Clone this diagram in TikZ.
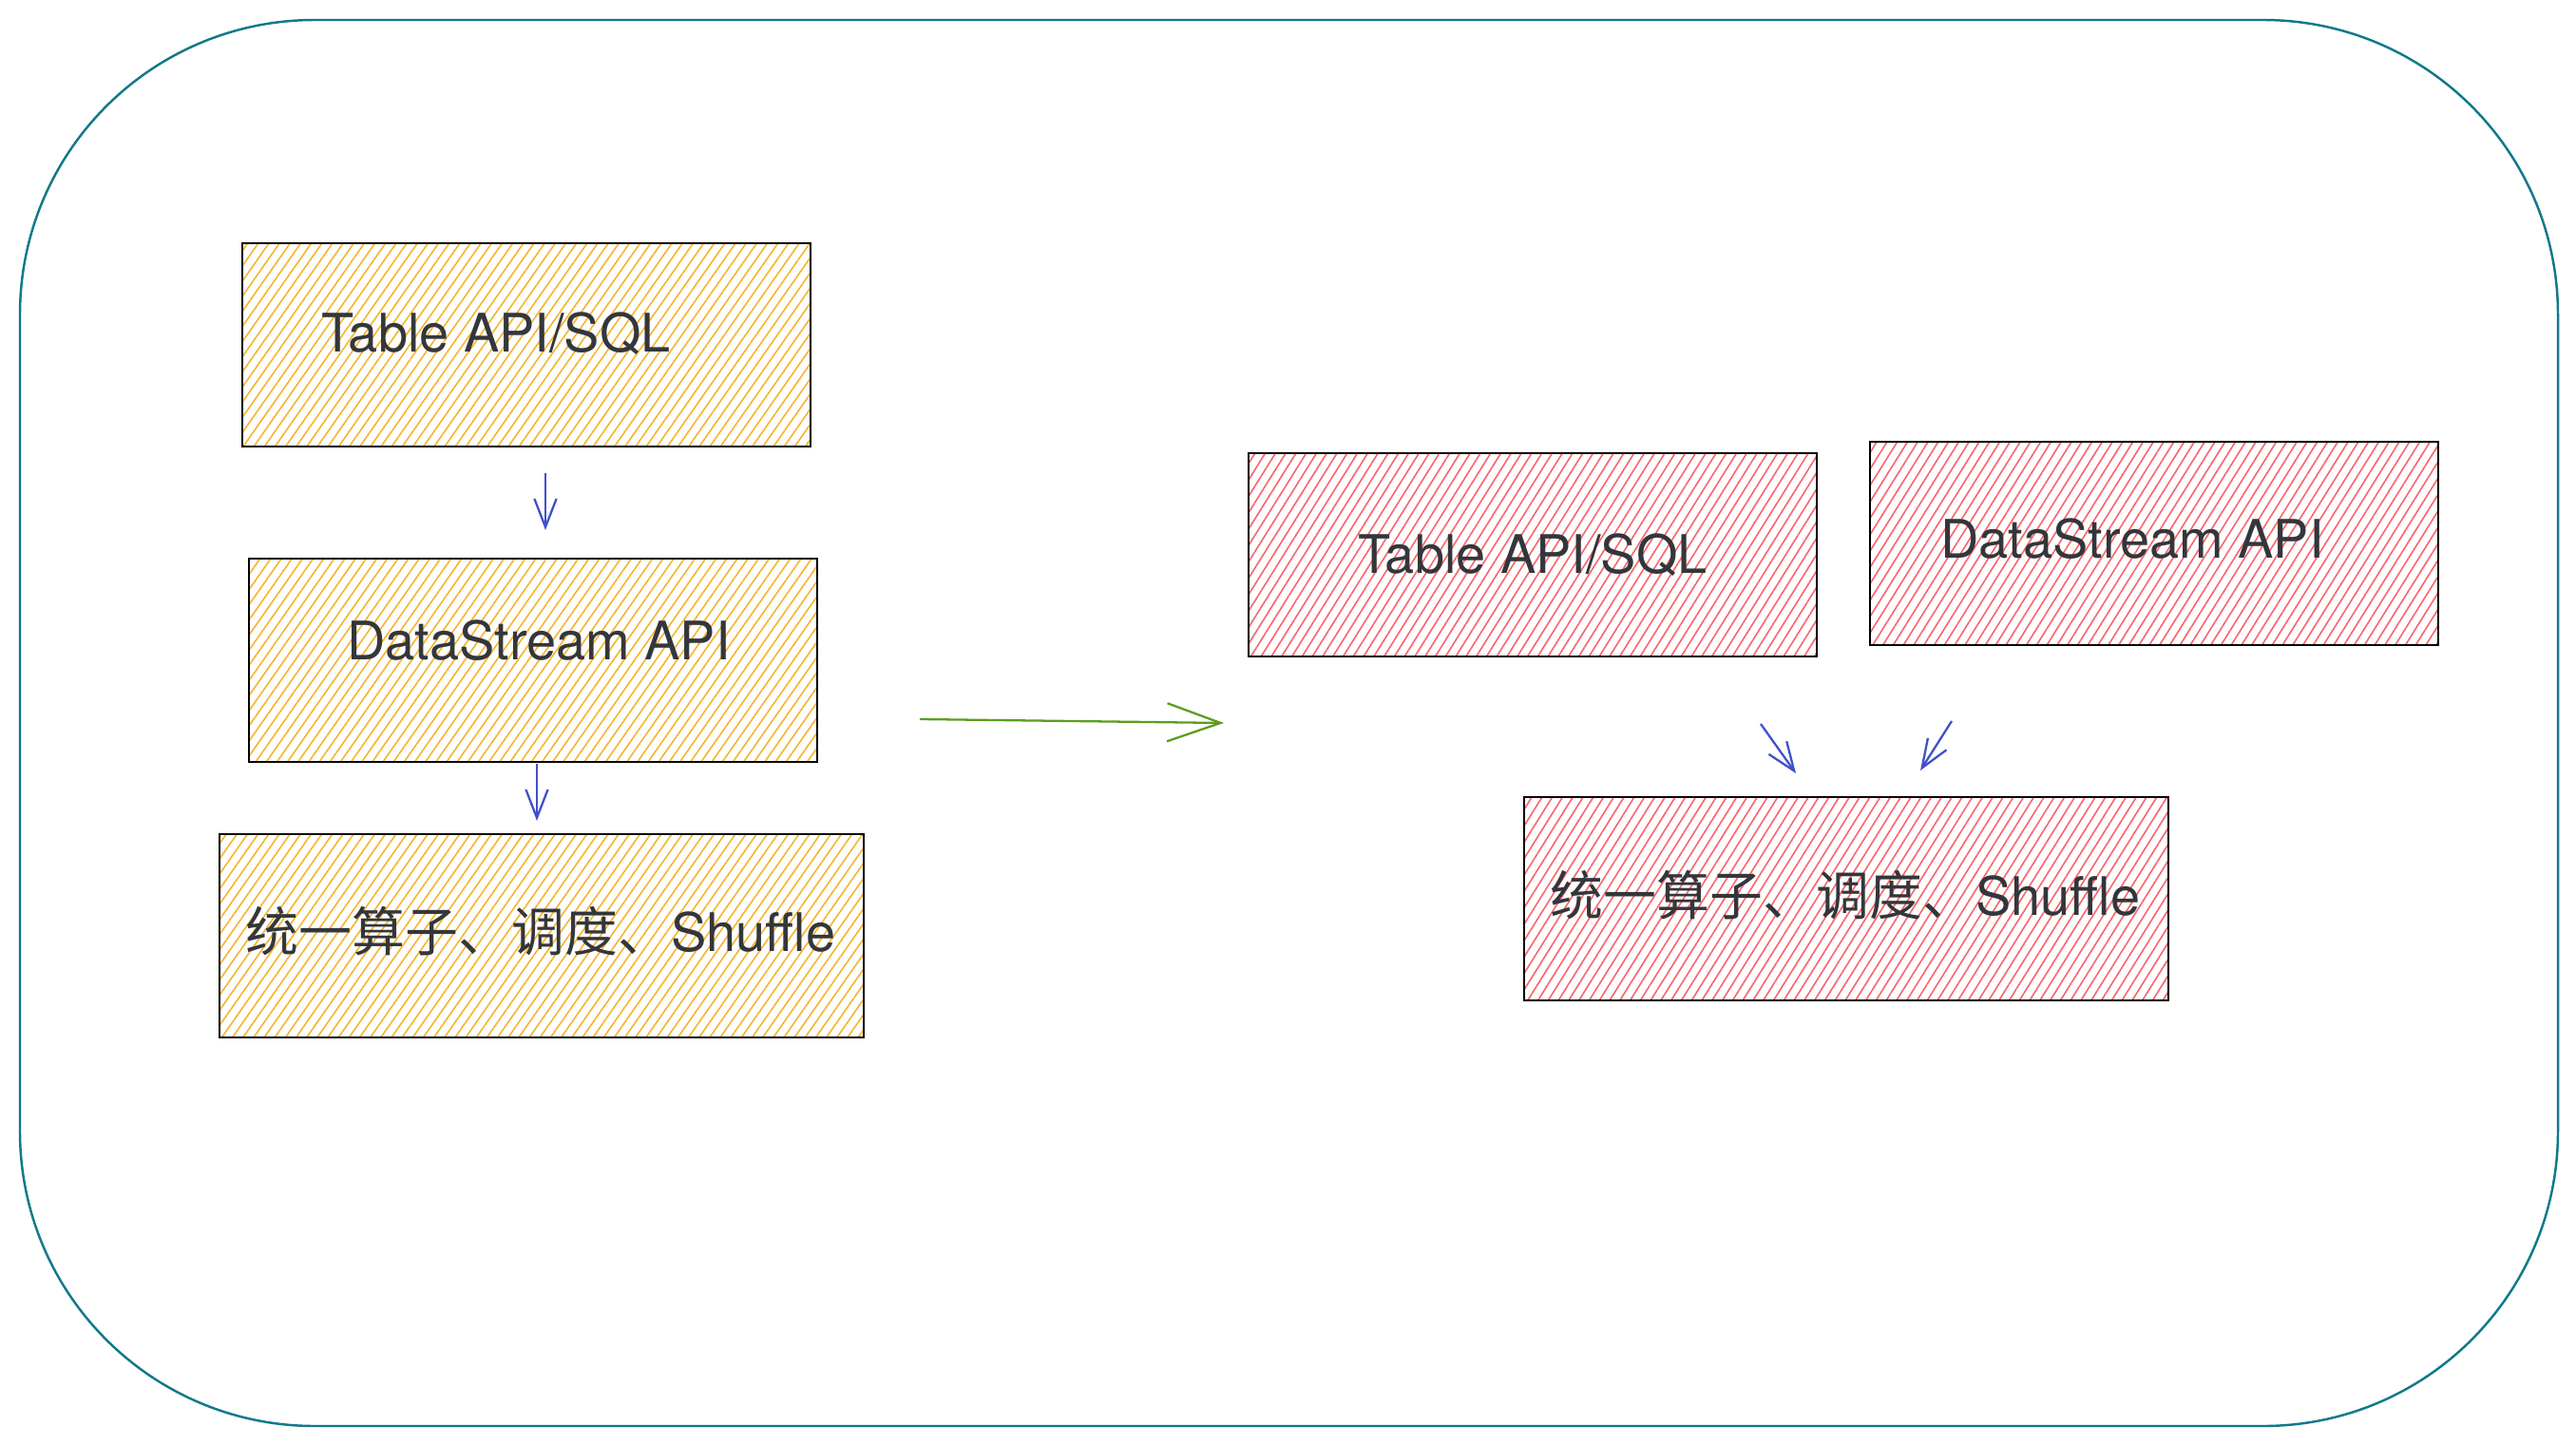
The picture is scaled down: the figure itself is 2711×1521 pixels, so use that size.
\documentclass[tikz,border=0pt]{standalone}
\usepackage{fontspec}
\setmainfont{TeX Gyre Heros}
\newfontfamily\cjk{Noto Sans CJK SC}
\usepackage{tikz}
\usetikzlibrary{arrows.meta, patterns.meta, calc, positioning}

\definecolor{frameteal}{HTML}{10798A}
\definecolor{hatchy}{HTML}{F5B52A}
\definecolor{hatchr}{HTML}{FA6468}
\definecolor{arrblue}{HTML}{3F51C9}
\definecolor{arrgreen}{HTML}{5B9E1E}
\definecolor{txtgray}{HTML}{33363B}

\begin{document}
\begin{tikzpicture}[x=0.01cm, y=-0.01cm,
	box/.style={draw=black, line width=0.6pt, inner sep=0pt, minimum width=5.97cm, minimum height=2.14cm},
	widebox/.style={minimum width=6.77cm},
	yhatch/.style={pattern={Lines[angle=55, distance=2.6pt, line width=0.45pt]}, pattern color=hatchy},
	rhatch/.style={pattern={Lines[angle=58, distance=2.6pt, line width=0.45pt]}, pattern color=hatchr},
	lbl/.style={text=txtgray, inner sep=0pt, font=\fontsize{15.9pt}{18pt}\selectfont},
	bluearrow/.style={draw=arrblue, line width=0.65pt, -{Straight Barb[length=8.5pt, width=6.6pt]}},
	greenarrow/.style={draw=arrgreen, line width=0.65pt, -{Straight Barb[length=16pt, width=11.4pt]}}]
		\useasboundingbox (0,0) rectangle (2711,1521);
		\draw [frameteal, line width=0.7pt, rounded corners=3.1cm] (21,21) rectangle (2692,1501);
		
		% old stack
		\node [box, yhatch] (ltable) at (554,363) {};
		\node [lbl] (ltabletxt) at (522,351) {Table API/SQL};
		\node [box, yhatch] (lstream) at (561,695) {};
		\node [lbl] (lstreamtxt) at (567,674) {DataStream API};
		\node [box, widebox, yhatch] (lcore) at (570,985) {};
		\node [lbl] (lcoretxt) at (569,980) {{\cjk 统一算子、调度、}Shuffle};
		
		\coordinate (a1s) at (574,498);
		\coordinate (a1e) at (574,558);
		\coordinate (a2s) at (565,804);
		\coordinate (a2e) at (565,864);
		\draw [bluearrow] (a1s) -- (a1e);
		\draw [bluearrow] (a2s) -- (a2e);
		
		\coordinate (gs) at (968,757);
		\coordinate (ge) at (1288,761);
		\draw [greenarrow] (gs) -- (ge);
		
		% new layout
		\node [box, rhatch] (rtable) at (1613,584) {};
		\node [lbl] (rtabletxt) at (1613,584) {Table API/SQL};
		\node [box, rhatch] (rstream) at (2267,572) {};
		\node [lbl] (rstreamtxt) at (2244,567) {DataStream API};
		\node [box, widebox, rhatch] (rcore) at (1943,946) {};
		\node [lbl] (rcoretxt) at (1942,942) {{\cjk 统一算子、调度、}Shuffle};
		
		\coordinate (b1s) at (1853,762);
		\coordinate (b1e) at (1890,814);
		\coordinate (b2s) at (2054,759);
		\coordinate (b2e) at (2021,811);
		\draw [bluearrow] (b1s) -- (b1e);
		\draw [bluearrow] (b2s) -- (b2e);
\end{tikzpicture}
\end{document}
